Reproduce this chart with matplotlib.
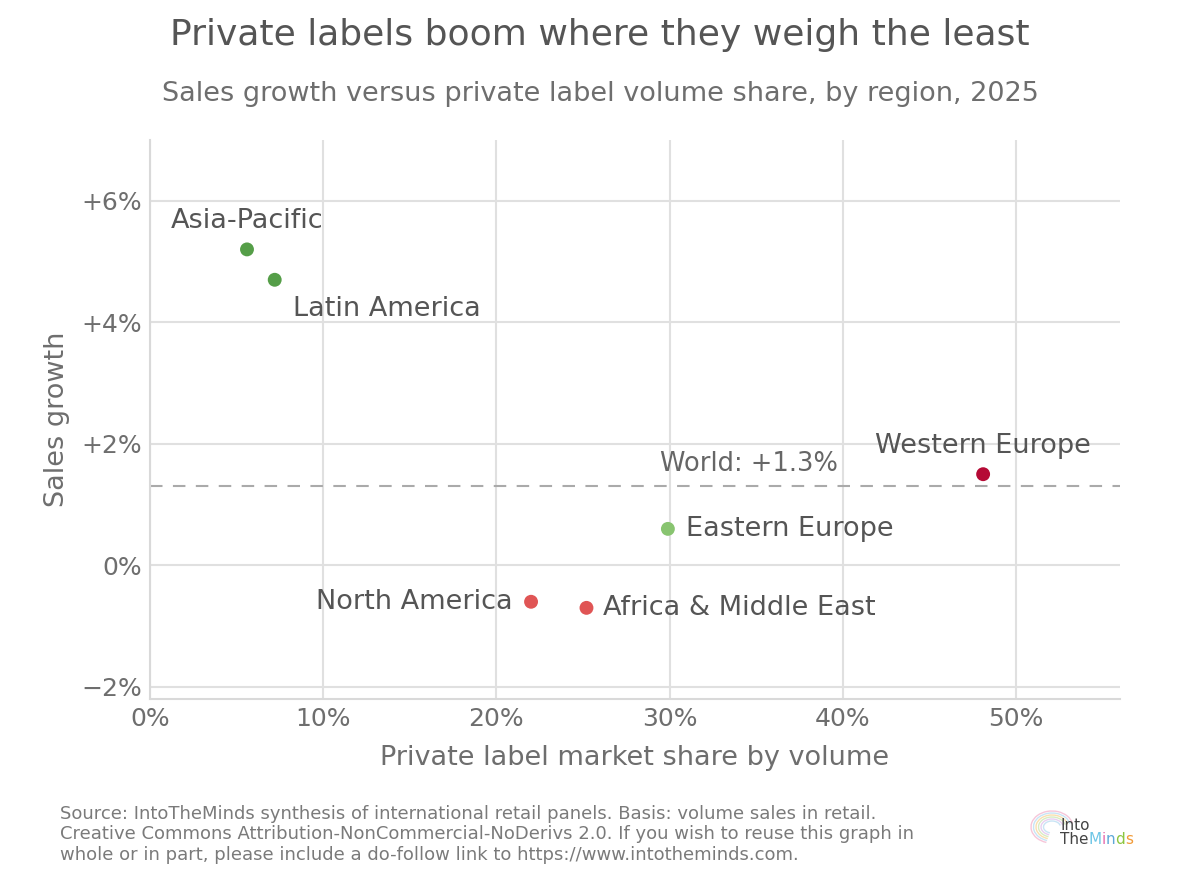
import matplotlib
matplotlib.use("Agg")
import matplotlib.pyplot as plt
from matplotlib.ticker import FuncFormatter
from matplotlib.patches import Arc

# Data
regions = ["Asia-Pacific", "Latin America", "Western Europe", "Eastern Europe",
           "North America", "Africa & Middle East"]
share = [5.6, 7.2, 48.1, 29.9, 22.0, 25.2]
growth = [5.2, 4.7, 1.5, 0.6, -0.6, -0.7]
colors = ["#559e48", "#559e48", "#b50a35", "#88c470", "#e05555", "#e05555"]
world_growth = 1.3
x_ticks = [0, 10, 20, 30, 40, 50]
y_ticks = [-2, 0, 2, 4, 6]

# label placement (offset in points, ha, va)
label_pos = {
    "Asia-Pacific": ((0, 11), "center", "bottom"),
    "Latin America": ((13, -12), "left", "top"),
    "Western Europe": ((0, 11), "center", "bottom"),
    "Eastern Europe": ((13, 0), "left", "center"),
    "North America": ((-13, 0), "right", "center"),
    "Africa & Middle East": ((12, 0), "left", "center"),
}

plt.rcParams['font.family'] = ['DejaVu Sans']
fig = plt.figure(figsize=(12, 8.83), dpi=100)
ax = fig.add_axes([0.125, 0.2084, 0.8083, 0.633])

ax.set_xlim(0, 56)
ax.set_ylim(-2.2, 7.0)
ax.set_xticks(x_ticks)
ax.set_yticks(y_ticks)
ax.xaxis.set_major_formatter(FuncFormatter(lambda v, p: f"{v:.0f}%"))
def yfmt(v, p):
    if v > 0:
        return f"+{v:.0f}%"
    if v < 0:
        return f"\u2212{abs(v):.0f}%"
    return "0%"
ax.yaxis.set_major_formatter(FuncFormatter(yfmt))

ax.grid(True, color="#e0e0e0", linewidth=1.5)
ax.set_axisbelow(True)
for s in ["top", "right"]:
    ax.spines[s].set_visible(False)
for s in ["left", "bottom"]:
    ax.spines[s].set_color("#d9d9d9")
    ax.spines[s].set_linewidth(1.5)
ax.tick_params(axis="both", length=0, labelsize=18, labelcolor="#6e6e6e", pad=6)

ax.axhline(world_growth, color="#aaaaaa", linestyle=(0, (6, 5)), linewidth=1.5, zorder=2)
ax.annotate(f"World: +{world_growth}%", xy=(34.6, world_growth), xytext=(0, 7),
            textcoords="offset points", ha="center", va="bottom",
            fontsize=18.5, color="#666666")

ax.scatter(share, growth, s=100, c=colors, zorder=3, edgecolors="none")
for r, x, y in zip(regions, share, growth):
    off, ha, va = label_pos[r]
    ax.annotate(r, xy=(x, y), xytext=off, textcoords="offset points",
                ha=ha, va=va, fontsize=19.5, color="#555555")

ax.set_xlabel("Private label market share by volume", fontsize=19.5, color="#6e6e6e", labelpad=10)
ax.set_ylabel("Sales growth", fontsize=19.5, color="#6e6e6e", labelpad=8)

fig.text(0.5, 0.96, "Private labels boom where they weigh the least", ha="center",
         va="center", fontsize=26, color="#555555")
fig.text(0.5, 0.894, "Sales growth versus private label volume share, by region, 2025",
         ha="center", va="center", fontsize=19.5, color="#6e6e6e")

fig.text(0.05, 0.022,
         "Source: IntoTheMinds synthesis of international retail panels. Basis: volume sales in retail.\n"
         "Creative Commons Attribution-NonCommercial-NoDerivs 2.0. If you wish to reuse this graph in\n"
         "whole or in part, please include a do-follow link to https://www.intotheminds.com.",
         ha="left", va="bottom", fontsize=13, color="#7a7a7a", linespacing=1.15)

# logo
lax = fig.add_axes([1020/1200, 1 - 860/883, 130/1200, 60/883])
lax.set_xlim(0, 130)
lax.set_ylim(0, 60)
lax.axis("off")
for i, c in enumerate(["#f7c6d9", "#c9e4f5", "#f9e0b0", "#d8ecc4", "#e7d0f0", "#c9e4f5"]):
    lax.add_patch(Arc((32, 33), 42 - i * 5, 32 - i * 4, theta1=10, theta2=250,
                      color=c, linewidth=1.0))
renderer = fig.canvas.get_renderer()
fig.text(1060 / 1200, 1 - 826 / 883, "Into", fontsize=11, color="#444444", ha="left", va="center")
xpix = 1060
for t, c in [("The", "#444444"), ("M", "#6ec6e6"), ("i", "#e86fb0"), ("n", "#5fa8d8"),
             ("d", "#8cc63f"), ("s", "#f29b38")]:
    txt = fig.text(xpix / 1200, 1 - 840 / 883, t, fontsize=11, color=c, ha="left", va="center")
    bb = txt.get_window_extent(renderer=renderer)
    xpix += bb.width

fig.savefig("out.png", dpi=100)
